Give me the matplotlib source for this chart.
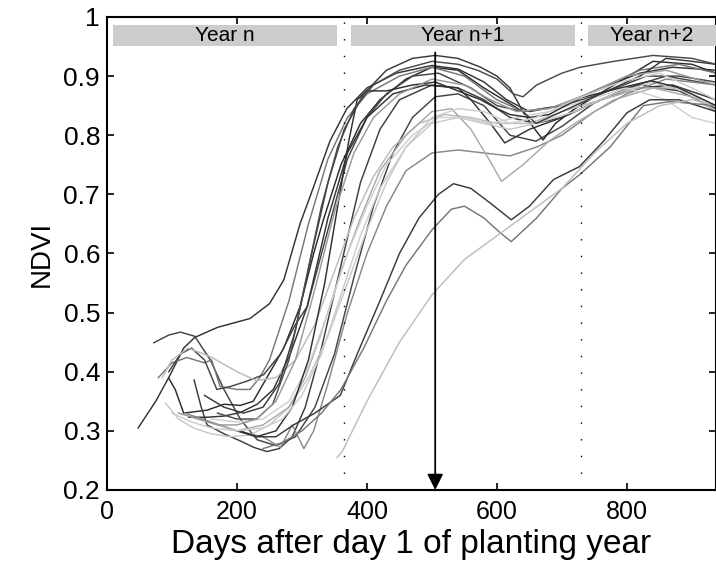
import matplotlib
matplotlib.use("Agg")
import matplotlib.pyplot as plt
from matplotlib.patches import Rectangle

plt.rcParams['font.family'] = ['Liberation Sans', 'DejaVu Sans']

# NDVI profiles: (day, NDVI) pairs for each field
days_1 = [48, 75, 95, 118, 135, 170, 220, 250, 272, 297, 317, 343, 369, 400, 445, 500, 540, 580, 615, 650, 700, 760, 820, 870, 937]
ndvi_1 = [.305, .35, .39, .44, .458, .475, .49, .515, .555, .65, .71, .79, .845, .88, .905, .918, .912, .89, .86, .84, .85, .88, .905, .915, .91]

days_2 = [72, 95, 113, 135, 159, 180, 205, 231, 260, 290, 320, 350, 380, 410, 440, 470, 505, 540, 580, 620, 660, 700, 750, 800, 860, 937]
ndvi_2 = [.449, .462, .467, .46, .42, .37, .32, .285, .275, .29, .34, .43, .56, .68, .77, .83, .865, .87, .85, .8, .79, .815, .855, .88, .9, .885]

days_3 = [95, 105, 118, 154, 180, 205, 225, 246, 272, 297, 318, 333, 360, 390, 420, 460, 500, 540, 580, 610, 640, 655, 671, 690, 720, 780, 840, 900, 937]
ndvi_3 = [.389, .37, .33, .335, .345, .343, .35, .39, .44, .51, .6, .657, .75, .82, .86, .895, .915, .91, .88, .86, .84, .815, .792, .82, .845, .885, .925, .92, .905]

days_4 = [134, 145, 154, 180, 205, 226, 246, 265, 285, 305, 330, 360, 390, 420, 450, 500, 540, 580, 620, 660, 700, 760, 820, 880, 937]
ndvi_4 = [.386, .34, .31, .295, .283, .272, .265, .27, .29, .34, .44, .58, .72, .81, .86, .885, .88, .86, .83, .82, .83, .86, .885, .875, .845]

days_5 = [79, 100, 123, 150, 161, 174, 200, 220, 235, 250, 280, 310, 340, 370, 400, 450, 500, 550, 600, 640, 700, 760, 820, 880, 937]
ndvi_5 = [.39, .415, .424, .415, .42, .375, .37, .37, .39, .42, .52, .65, .76, .83, .87, .9, .915, .9, .86, .84, .85, .88, .91, .92, .905]

days_6 = [95, 113, 130, 150, 169, 190, 215, 241, 267, 290, 308, 340, 370, 400, 430, 470, 510, 560, 600, 640, 700, 760, 830, 880, 937]
ndvi_6 = [.40, .43, .44, .42, .37, .375, .384, .395, .43, .48, .51, .64, .76, .83, .87, .9, .905, .88, .85, .84, .85, .87, .9, .9, .89]

days_7 = [126, 154, 180, 205, 231, 256, 282, 308, 340, 370, 400, 440, 490, 540, 560, 590, 612, 650, 700, 760, 820, 870, 937]
ndvi_7 = [.323, .323, .325, .331, .345, .37, .43, .51, .66, .77, .83, .87, .885, .88, .86, .82, .787, .81, .83, .86, .88, .885, .86]

days_8 = [90, 110, 133, 160, 190, 220, 250, 280, 310, 340, 370, 400, 430, 460, 500, 540, 580, 620, 660, 720, 780, 840, 900, 937]
ndvi_8 = [.347, .32, .305, .295, .29, .293, .31, .34, .39, .46, .55, .64, .72, .78, .82, .83, .82, .81, .82, .84, .87, .89, .87, .84]

days_9 = [85, 100, 125, 160, 200, 230, 260, 290, 320, 350, 380, 410, 440, 480, 520, 560, 600, 650, 700, 760, 820, 880, 937]
ndvi_9 = [.39, .42, .44, .425, .40, .385, .39, .42, .48, .57, .66, .73, .78, .82, .835, .83, .82, .82, .84, .86, .88, .88, .85]

days_10 = [120, 160, 200, 240, 267, 285, 303, 318, 340, 370, 400, 430, 460, 500, 540, 580, 620, 661, 700, 750, 800, 860, 937]
ndvi_10 = [.33, .315, .30, .29, .272, .31, .27, .30, .38, .5, .6, .68, .74, .77, .775, .77, .765, .78, .80, .84, .87, .895, .885]

days_11 = [170, 200, 240, 280, 305, 328, 360, 390, 420, 460, 500, 530, 560, 590, 607, 640, 680, 720, 780, 840, 900, 937]
ndvi_11 = [.31, .30, .31, .34, .39, .46, .57, .66, .74, .8, .84, .845, .81, .755, .722, .75, .79, .82, .86, .88, .865, .84]

days_12 = [160, 200, 240, 280, 310, 340, 370, 400, 430, 470, 510, 550, 590, 630, 680, 740, 800, 860, 900, 937]
ndvi_12 = [.32, .315, .32, .35, .41, .5, .6, .68, .75, .8, .83, .83, .82, .83, .84, .86, .88, .86, .83, .82]

days_13 = [205, 230, 260, 287, 320, 359, 385, 420, 450, 480, 510, 533, 560, 590, 622, 650, 687, 727, 764, 800, 835, 880, 937]
ndvi_13 = [.30, .29, .29, .31, .33, .36, .43, .52, .6, .66, .70, .718, .71, .685, .657, .68, .725, .747, .79, .838, .86, .86, .84]

days_14 = [240, 270, 300, 330, 360, 395, 430, 460, 500, 530, 550, 580, 605, 622, 661, 700, 727, 774, 825, 866, 937]
ndvi_14 = [.27, .28, .30, .33, .37, .44, .52, .58, .64, .675, .68, .66, .635, .62, .66, .71, .733, .78, .85, .857, .85]

days_15 = [354, 362, 400, 450, 500, 550, 600, 650, 700, 750, 800, 850, 900, 937]
ndvi_15 = [.255, .265, .35, .45, .53, .59, .63, .67, .71, .77, .82, .85, .86, .85]

days_16 = [150, 180, 210, 240, 265, 290, 315, 340, 365, 395, 430, 470, 505, 540, 575, 600, 620, 640, 660, 700, 760, 820, 860, 900, 937]
ndvi_16 = [.36, .34, .33, .34, .38, .47, .6, .72, .81, .87, .91, .93, .935, .93, .915, .9, .88, .84, .82, .84, .87, .9, .93, .925, .92]

days_17 = [200, 230, 260, 285, 310, 335, 355, 372, 385, 400, 430, 470, 505, 540, 575, 600, 620, 650, 680, 728, 790, 837, 878, 937]
ndvi_17 = [.30, .29, .30, .34, .42, .55, .68, .79, .86, .875, .875, .885, .89, .875, .86, .845, .835, .83, .835, .863, .88, .892, .881, .85]

days_18 = [170, 200, 230, 255, 280, 305, 330, 355, 380, 410, 450, 500, 540, 570, 600, 625, 640, 661, 700, 728, 780, 840, 900, 937]
ndvi_18 = [.33, .32, .32, .345, .42, .55, .68, .78, .845, .885, .91, .925, .92, .91, .895, .87, .865, .885, .905, .915, .925, .935, .93, .92]

days_19 = [110, 140, 170, 200, 230, 260, 290, 320, 350, 380, 410, 450, 500, 550, 590, 630, 680, 740, 800, 860, 937]
ndvi_19 = [.33, .32, .31, .31, .32, .35, .42, .54, .67, .77, .83, .87, .895, .885, .86, .84, .845, .87, .9, .91, .885]

days_20 = [100, 130, 160, 200, 240, 270, 300, 330, 360, 390, 420, 460, 500, 540, 580, 620, 660, 720, 790, 850, 900, 937]
ndvi_20 = [.33, .315, .305, .30, .305, .32, .36, .43, .53, .63, .71, .78, .83, .845, .84, .82, .83, .86, .89, .905, .88, .86]

all_days = [days_1, days_2, days_3, days_4, days_5, days_6, days_7, days_8, days_9, days_10,
            days_11, days_12, days_13, days_14, days_15, days_16, days_17, days_18, days_19, days_20]
all_ndvi = [ndvi_1, ndvi_2, ndvi_3, ndvi_4, ndvi_5, ndvi_6, ndvi_7, ndvi_8, ndvi_9, ndvi_10,
            ndvi_11, ndvi_12, ndvi_13, ndvi_14, ndvi_15, ndvi_16, ndvi_17, ndvi_18, ndvi_19, ndvi_20]

year_labels = ['Year n', 'Year n+1', 'Year n+2']
year_start = [9, 375, 740]
year_end = [354, 720, 1000]
year_text_x = [181, 548, 838]
year_bounds = [365, 730]
harvest_day = 505

# line greys, one per curve
greys = ['#333333', '#444444', '#2b2b2b', '#3d3d3d', '#777777', '#444444', '#333333',
         '#c8c8c8', '#bbbbbb', '#888888', '#aaaaaa', '#d0d0d0', '#3a3a3a', '#777777',
         '#bdbdbd', '#3a3a3a', '#2f2f2f', '#4a4a4a', '#999999', '#cccccc']

fig = plt.figure(figsize=(7.16, 5.70), dpi=100)
ax = fig.add_axes([0.1494, 0.1404, 0.8506, 0.8298])

for d, v, c in zip(all_days, all_ndvi, greys):
    ax.plot(d, v, color=c, lw=1.05)

for xb in year_bounds:
    ax.axvline(xb, color='black', lw=1.0, linestyle=(0, (1, 11)))

for lab, x0, x1, xt in zip(year_labels, year_start, year_end, year_text_x):
    ax.add_patch(Rectangle((x0, 0.951), x1 - x0, 0.036, facecolor='#cccccc',
                           edgecolor='none', zorder=3))
    ax.text(xt, 0.968, lab, ha='center', va='center', fontsize=15, zorder=4)

ax.annotate('', xy=(harvest_day, 0.2), xytext=(harvest_day, 0.94),
            arrowprops=dict(arrowstyle='-|>', color='black', lw=1.3,
                            mutation_scale=24, shrinkA=0, shrinkB=0), zorder=5)

ax.set_xlim(0, 937)
ax.set_ylim(0.2, 1.0)
ax.set_xticks([0, 200, 400, 600, 800])
ax.set_yticks([0.2, 0.3, 0.4, 0.5, 0.6, 0.7, 0.8, 0.9, 1.0])
ax.set_yticklabels(['0.2', '0.3', '0.4', '0.5', '0.6', '0.7', '0.8', '0.9', '1'])
ax.tick_params(direction='in', top=True, right=True, length=5, width=1.2)
ax.tick_params(axis='x', labelsize=18, pad=7)
ax.tick_params(axis='y', labelsize=19, pad=5)
for sp in ax.spines.values():
    sp.set_linewidth(1.5)
ax.set_xlabel('Days after day 1 of planting year', fontsize=24, labelpad=4)
ax.set_ylabel('NDVI', fontsize=20, labelpad=6)

fig.savefig('out.png', dpi=100)
